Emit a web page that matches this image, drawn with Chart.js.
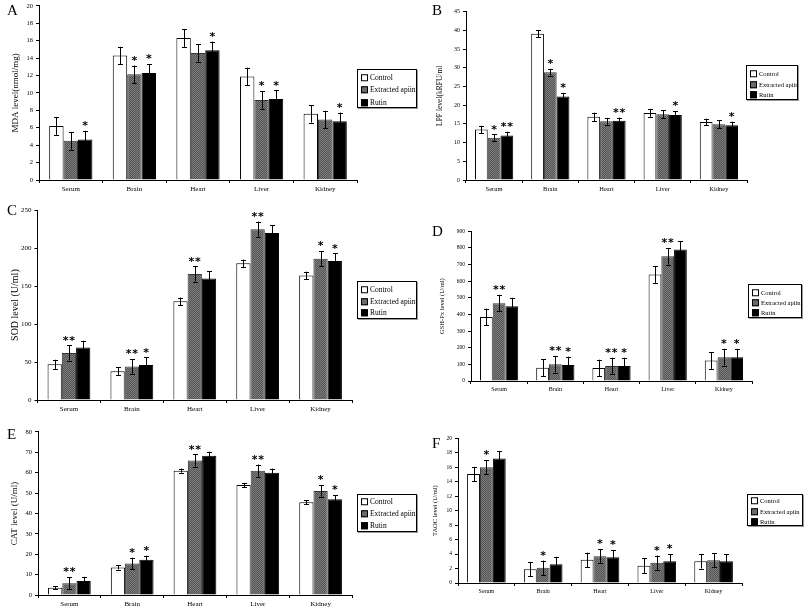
<!DOCTYPE html>
<html><head><meta charset="utf-8">
<script src="https://cdn.jsdelivr.net/npm/chart.js@4.4.1/dist/chart.umd.min.js"></script>
<style>
body{margin:0;background:#fff;width:804px;height:609px;position:relative;overflow:hidden;font-family:'Liberation Serif',serif;color:#000;}
canvas{position:absolute;}
.lbl{position:absolute;font-size:15px;line-height:1;}
.leg{position:absolute;border:1px solid #000;box-shadow:1px 1px 0 #999;background:#fff;box-sizing:border-box;color:#000;filter:grayscale(1);}
.leg div{position:absolute;left:3px;white-space:nowrap;line-height:1;transform:translateY(-50%);color:#000;}
.sw{display:inline-block;width:5px;height:5px;border:1px solid #000;margin-right:2px;vertical-align:-1px;}
</style></head><body>
<script>
const categories = ['Serum','Brain','Heart','Liver','Kidney'];
const seriesNames = ['Control','Extracted apiin','Rutin'];

// A: MDA
const mdaTicks = [0,2,4,6,8,10,12,14,16,18,20];
const mdaControl = [6.2,14.3,16.3,11.9,7.6];
const mdaExtracted = [4.5,12.15,14.6,9.2,6.95];
const mdaRutin = [4.65,12.3,14.9,9.3,6.75];
const mdaErrControl = [1,1,1,1,1];
const mdaErrExtracted = [1,1,1,1,1];
const mdaErrRutin = [1,1,1,1,1];
const mdaStarsExtracted = [0,1,0,1,0];
const mdaStarsRutin = [1,1,1,1,1];

// B: LPF
const lpfTicks = [0,5,10,15,20,25,30,35,40,45];
const lpfControl = [13.5,39.1,16.9,17.9,15.5];
const lpfExtracted = [11.3,28.8,15.7,17.6,14.9];
const lpfRutin = [11.9,22.3,15.8,17.4,14.6];
const lpfErrControl = [1,1,1.1,1,0.9];
const lpfErrExtracted = [0.9,0.9,0.9,1,1];
const lpfErrRutin = [1,0.9,0.9,1,1];
const lpfStarsExtracted = [1,1,0,0,0];
const lpfStarsRutin = [2,1,2,1,1];

// C: SOD
const sodTicks = [0,50,100,150,200,250];
const sodControl = [47,38,130,180,164];
const sodExtracted = [62,44,166,225,186];
const sodRutin = [69,46,160,220,183];
const sodErrControl = [6,5,5,5,5];
const sodErrExtracted = [10,10,10,10,10];
const sodErrRutin = [9,10,10,10,10];
const sodStarsExtracted = [2,2,2,2,1];
const sodStarsRutin = [0,1,0,0,1];

// D: GSH-Px
const gshTicks = [0,100,200,300,400,500,600,700,800,900];
const gshControl = [385,80,78,640,123];
const gshExtracted = [468,100,90,750,143];
const gshRutin = [450,96,90,790,143];
const gshErrControl = [50,50,50,50,50];
const gshErrExtracted = [50,50,50,50,50];
const gshErrRutin = [50,50,50,50,50];
const gshStarsExtracted = [2,2,2,2,1];
const gshStarsRutin = [0,1,1,0,1];

// E: CAT
const catTicks = [0,10,20,30,40,50,60,70,80];
const catControl = [3.6,13.5,61,54,45.5];
const catExtracted = [5.8,15.5,66,61,51];
const catRutin = [6.9,17.3,68.3,60,47];
const catErrControl = [0.8,1,1,1,1];
const catErrExtracted = [3,2.8,3,3,3];
const catErrRutin = [2,2,2,2,2];
const catStarsExtracted = [2,1,2,2,1];
const catStarsRutin = [0,1,0,0,1];

// F: TAOC
const taocTicks = [0,2,4,6,8,10,12,14,16,18,20];
const taocControl = [15.05,1.9,3.2,2.4,3.0];
const taocExtracted = [16.0,2.1,3.7,2.8,3.15];
const taocRutin = [17.2,2.6,3.55,3.0,3.0];
const taocErrControl = [1,1,1,1,1];
const taocErrExtracted = [1,1,1,1,1];
const taocErrRutin = [1,1,1,1,1];
const taocStarsExtracted = [1,1,1,1,0];
const taocStarsRutin = [0,0,1,1,0];

function makePattern(){
  const c=document.createElement('canvas'); c.width=c.height=2;
  const g=c.getContext('2d');
  g.fillStyle='#7c7c7c'; g.fillRect(0,0,2,2);
  g.fillStyle='#555'; g.fillRect(0,0,1,1); g.fillRect(1,1,1,1);
  return g.createPattern(c,'repeat');
}
const extractedFill = makePattern();

const errPlugin = {
  id:'errbars',
  afterDatasetsDraw(chart, args, opts){
    const ctx=chart.ctx, y=chart.scales.y;
    chart.data.datasets.forEach((ds,i)=>{
      const meta=chart.getDatasetMeta(i);
      meta.data.forEach((bar,j)=>{
        const v=ds.data[j], e=ds.errors[j];
        const yt=y.getPixelForValue(v+e), yb=y.getPixelForValue(v-e);
        const x=Math.round(bar.x)+0.5, cw=2.5;
        ctx.save();
        ctx.strokeStyle='#000'; ctx.lineWidth=1;
        ctx.beginPath();
        ctx.moveTo(x,yt); ctx.lineTo(x,yb);
        ctx.moveTo(x-cw,Math.round(yt)+0.5); ctx.lineTo(x+cw,Math.round(yt)+0.5);
        ctx.moveTo(x-cw,Math.round(yb)+0.5); ctx.lineTo(x+cw,Math.round(yb)+0.5);
        ctx.stroke();
        const n=ds.stars[j]||0;
        if(n>0){
          ctx.font="bold 11px 'DejaVu Sans'";
          ctx.fillStyle='#000'; ctx.textAlign='center'; ctx.textBaseline='alphabetic';
          const sp=6.5;
          for(let k=0;k<n;k++){
            const sx=bar.x+(k-(n-1)/2)*sp;
            ctx.fillText('*',sx,yt-opts.starGap+6.2);
          }
        }
        ctx.restore();
      });
    });
  },
  afterDraw(chart, args, opts){
    const ctx=chart.ctx, a=chart.chartArea;
    ctx.save();
    ctx.font=opts.titleSize+"px 'Liberation Serif'";
    ctx.fillStyle='#000'; ctx.textAlign='center'; ctx.textBaseline='middle';
    ctx.translate(opts.titleX,(a.top+a.bottom)/2);
    ctx.rotate(-Math.PI/2);
    ctx.fillText(opts.title,0,0);
    ctx.restore();
  }
};

const panels = [
  {id:'A', cx:0, L:39, T:5, R:357, B:180, ticks:mdaTicks, c:mdaControl, e:mdaExtracted, r:mdaRutin,
   ec:mdaErrControl, ee:mdaErrExtracted, er:mdaErrRutin, se:mdaStarsExtracted, sr:mdaStarsRutin,
   title:'MDA level(nmol/mg)', tx:16, tf:9, tickF:6.5, catF:7, lx:7, ly:10,
   leg:{x:357,y:69,w:60,h:39,f:7.5,rows:[7.5,20,32.5]}},
  {id:'B', cx:400, L:466, T:11, R:747, B:180, ticks:lpfTicks, c:lpfControl, e:lpfExtracted, r:lpfRutin,
   ec:lpfErrControl, ee:lpfErrExtracted, er:lpfErrRutin, se:lpfStarsExtracted, sr:lpfStarsRutin,
   title:'LPF level(kRFU/ml', tx:440, tf:7.5, tickF:6, catF:6.5, lx:432, ly:10,
   leg:{x:746,y:65,w:52,h:35,f:6.5,rows:[8,18.5,29]}},
  {id:'C', cx:0, L:37.5, T:209, R:352, B:400, ticks:sodTicks, c:sodControl, e:sodExtracted, r:sodRutin,
   ec:sodErrControl, ee:sodErrExtracted, er:sodErrRutin, se:sodStarsExtracted, sr:sodStarsRutin,
   title:'SOD level (U/ml)', tx:15, tf:10, tickF:7, catF:7, lx:7, ly:210,
   leg:{x:357,y:281,w:60,h:38,f:7.5,rows:[7.5,19.5,31]}},
  {id:'D', cx:400, L:471, T:231, R:752, B:381, ticks:gshTicks, c:gshControl, e:gshExtracted, r:gshRutin,
   ec:gshErrControl, ee:gshErrExtracted, er:gshErrRutin, se:gshStarsExtracted, sr:gshStarsRutin,
   title:'GSH-Px level (U/ml)', tx:442, tf:6.5, tickF:5.5, catF:6, lx:432, ly:231,
   leg:{x:748,y:284,w:54,h:34,f:6.5,rows:[7.5,17.5,28]}},
  {id:'E', cx:0, L:38, T:431, R:352, B:595, ticks:catTicks, c:catControl, e:catExtracted, r:catRutin,
   ec:catErrControl, ee:catErrExtracted, er:catErrRutin, se:catStarsExtracted, sr:catStarsRutin,
   title:'CAT level (U/ml)', tx:15, tf:9, tickF:6.5, catF:7, lx:7, ly:434,
   leg:{x:357,y:494,w:60,h:38,f:7.5,rows:[7,19,30.5]}},
  {id:'F', cx:400, L:458, T:438, R:742, B:583, ticks:taocTicks, c:taocControl, e:taocExtracted, r:taocRutin,
   ec:taocErrControl, ee:taocErrExtracted, er:taocErrRutin, se:taocStarsExtracted, sr:taocStarsRutin,
   title:'TAOC level (U/ml)', tx:435, tf:6.5, tickF:5.5, catF:6, lx:432, ly:443,
   leg:{x:747,y:494,w:56,h:32,f:6.5,rows:[6,16.5,27]}}
];

const swatches=['#fff','#6a6a6a','#000'];

panels.forEach(p=>{
  const padTop=6, xh=18, padR=3;
  const W=Math.ceil(p.R-p.cx+padR), H=Math.ceil((p.B-p.T)+padTop+xh);
  const cv=document.createElement('canvas');
  cv.width=W; cv.height=H;
  cv.style.left=p.cx+'px'; cv.style.top=(p.T-padTop)+'px';
  cv.style.width=W+'px'; cv.style.height=H+'px';
  document.body.appendChild(cv);
  const common={categoryPercentage:0.68, barPercentage:1, borderWidth:1};
  new Chart(cv,{
    type:'bar',
    data:{labels:categories, datasets:[
      Object.assign({label:seriesNames[0], data:p.c, errors:p.ec, stars:[], backgroundColor:'#fff', borderColor:'#000'},common),
      Object.assign({label:seriesNames[1], data:p.e, errors:p.ee, stars:p.se, backgroundColor:extractedFill, borderColor:'#333'},common),
      Object.assign({label:seriesNames[2], data:p.r, errors:p.er, stars:p.sr, backgroundColor:'#000', borderColor:'#000'},common)
    ]},
    options:{
      responsive:false, animation:false, devicePixelRatio:1,
      layout:{padding:{top:padTop,right:padR,left:0,bottom:0}},
      plugins:{legend:{display:false}, tooltip:{enabled:false},
        errbars:{title:p.title, titleX:p.tx-p.cx, titleSize:p.tf, starGap:8}},
      scales:{
        x:{grid:{display:true,drawOnChartArea:false,drawTicks:true,tickLength:3,color:'#000',offset:true},
           border:{display:true,color:'#000',width:1},
           ticks:{font:{family:'Liberation Serif',size:p.catF},color:'#000',padding:2,maxRotation:0,autoSkip:false},
           afterFit:s=>{s.height=xh;}},
        y:{min:0,max:p.ticks[p.ticks.length-1],
           grid:{display:true,drawOnChartArea:false,drawTicks:true,tickLength:3,color:'#000'},
           border:{display:true,color:'#000',width:1},
           ticks:{font:{family:'Liberation Serif',size:p.tickF},color:'#000',padding:3},
           afterBuildTicks:s=>{s.ticks=p.ticks.map(v=>({value:v}));},
           afterFit:s=>{s.width=p.L-p.cx;}}
      }
    },
    plugins:[errPlugin]
  });
  const l=document.createElement('div'); l.className='lbl'; l.textContent=p.id;
  l.style.left=p.lx+'px'; l.style.top=(p.ly-7)+'px'; document.body.appendChild(l);
  const g=document.createElement('div'); g.className='leg';
  g.style.left=p.leg.x+'px'; g.style.top=p.leg.y+'px'; g.style.width=p.leg.w+'px'; g.style.height=p.leg.h+'px';
  g.style.fontSize=p.leg.f+'px';
  seriesNames.forEach((n,i)=>{
    const row=document.createElement('div'); row.style.top=p.leg.rows[i]+'px';
    const sw=document.createElement('span'); sw.className='sw'; sw.style.background=swatches[i];
    row.appendChild(sw); row.appendChild(document.createTextNode(n)); g.appendChild(row);
  });
  document.body.appendChild(g);
});
</script>
</body></html>
